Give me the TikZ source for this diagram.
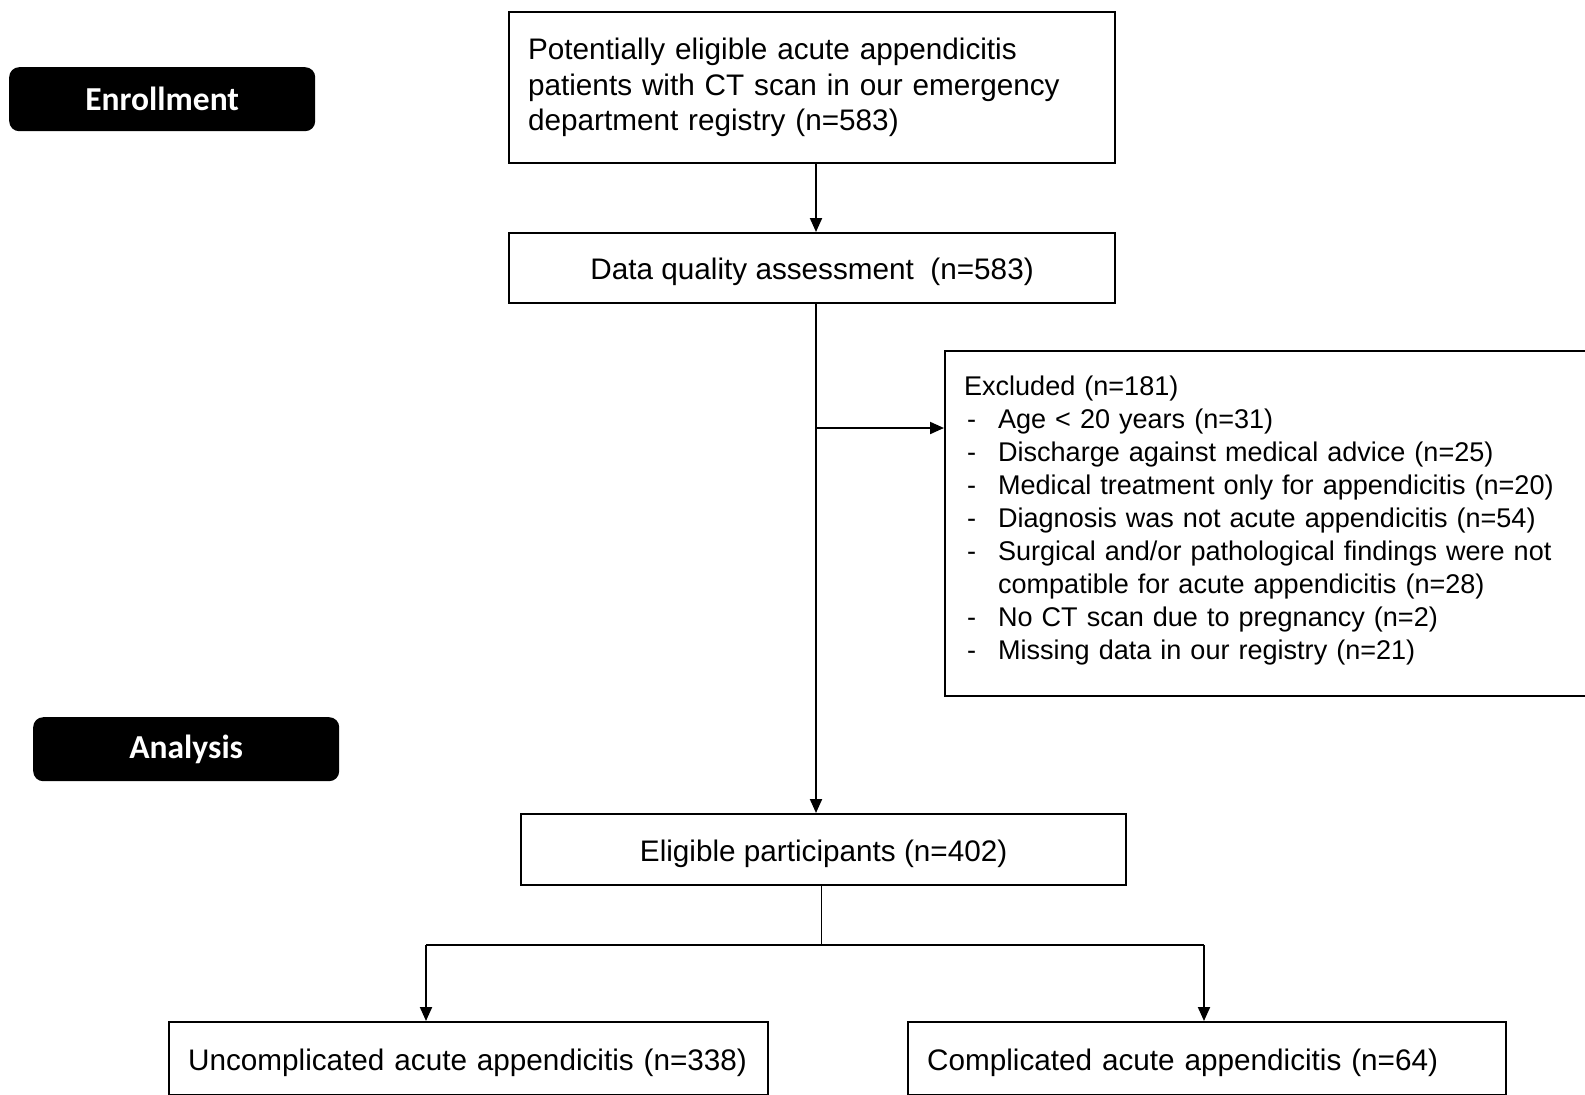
\documentclass[tikz,border=0pt]{standalone}
\usepackage{fontspec}
\usepackage{tikz}
\usetikzlibrary{arrows.meta}
\setmainfont{Liberation Sans}
\newfontfamily\phasefont{Carlito}

\tikzset{
    box/.style={draw, line width=2.2pt, inner xsep=19pt,
        font=\fontsize{29.7}{35.7}\selectfont},
    onebox/.style={box, text height=29.5pt, text depth=6.5pt},
    phase/.style={fill=black, rounded corners=10pt, text=white,
        minimum width=306, minimum height=64,
        font=\phasefont\bfseries\fontsize{33.5}{40}\selectfont},
    link/.style={line width=2pt},
    linkarrow/.style={line width=2pt, -{Triangle[length=14pt,width=12pt]}},
    thinlink/.style={line width=1pt}
}

\newcommand{\exclitem}[1]{\makebox[34pt][l]{\hspace{3pt}-}#1}

\begin{document}
\begin{tikzpicture}[x=1pt, y=-1pt]
    \useasboundingbox (0,0) rectangle (1585,1095);
    \clip (0,0) rectangle (1585,1095);
    \fill[white] (0,0) rectangle (1585,1095);

    % Phase labels
    \node[phase, anchor=north west] (enroll) at (9,67) {Enrollment};
    \node[phase, anchor=north west] (analysis) at (33,717) {Analysis};

    % Boxes
    \node[box, anchor=north west, text width=568, align=left, minimum height=151] (pool) at (508,11)
        {Potentially eligible acute appendicitis\\
         patients with CT scan in our emergency\\
         department registry (n=583)};
    \node[onebox, anchor=north west, minimum width=606, minimum height=70] (dqa) at (508,232)
        {Data quality assessment\ \ (n=583)};
    \node[box, anchor=north west, text width=622, align=left, minimum height=345,
          font=\fontsize{27.05}{33}\selectfont] (excl) at (944,350)
        {Excluded (n=181)\\
         \exclitem{Age < 20 years (n=31)}\\
         \exclitem{Discharge against medical advice (n=25)}\\
         \exclitem{Medical treatment only for appendicitis (n=20)}\\
         \exclitem{Diagnosis was not acute appendicitis (n=54)}\\
         \exclitem{Surgical and/or pathological findings were not}\\
         \hspace*{34pt}compatible for acute appendicitis (n=28)\\
         \exclitem{No CT scan due to pregnancy (n=2)}\\
         \exclitem{Missing data in our registry (n=21)}\rule[-12pt]{0pt}{1pt}};
    \node[onebox, anchor=north west, minimum width=605, minimum height=71] (elig) at (520,813)
        {Eligible participants (n=402)};
    \node[onebox, anchor=north west, text width=561, align=left, minimum height=73] (uncomp) at (168,1021)
        {Uncomplicated acute appendicitis (n=338)};
    \node[onebox, anchor=north west, text width=560, align=left, minimum height=73] (comp) at (907,1021)
        {Complicated acute appendicitis (n=64)};

    % Main spine
    \coordinate (spine) at (816,0);
    \coordinate (split) at (816,428);
    \draw[linkarrow] (pool.south -| spine) -- (dqa.north -| spine);
    \draw[linkarrow] (dqa.south -| spine) -- (elig.north -| spine);
    \draw[linkarrow] (split) -- (split -| excl.west);

    % Split into the two groups
    \coordinate (fork) at (821,945);
    \coordinate (forkL) at (426,945);
    \coordinate (forkR) at (1204,945);
    \draw[thinlink] (elig.south -| fork) -- (fork);
    \draw[link] (forkL) -- (forkR);
    \draw[linkarrow] (forkL) -- (forkL |- uncomp.north);
    \draw[linkarrow] (forkR) -- (forkR |- comp.north);
\end{tikzpicture}
\end{document}
